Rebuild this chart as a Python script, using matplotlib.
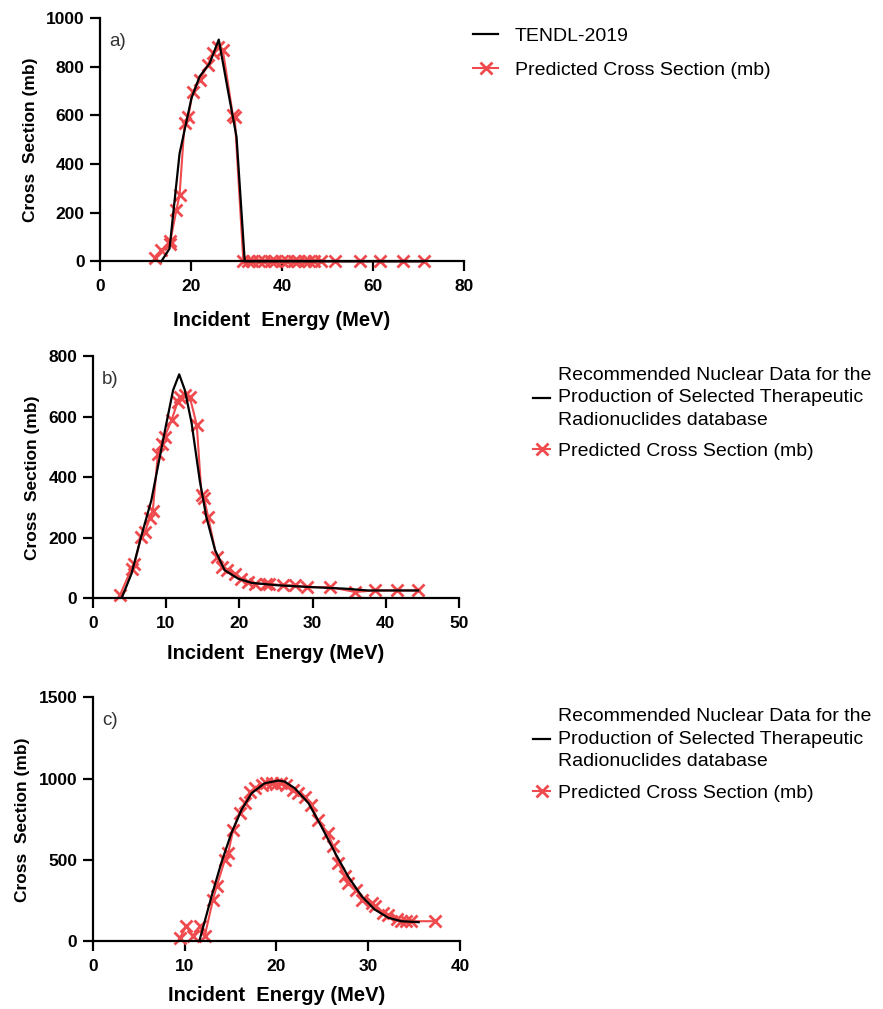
import matplotlib.pyplot as plt

plt.rcParams['font.family'] = ['Liberation Sans', 'DejaVu Sans']

# -------------------------------
# Data
# -------------------------------

# a) TENDL-2019
a_ref_e = [13.5, 15.3, 17.5, 20.1, 21.9, 24.1, 26.1, 28.1, 30.0, 31.8, 35, 45, 55, 65, 71]
a_ref_xs = [0, 52, 443, 670, 760, 814, 912, 704, 512, 0, 0, 0, 0, 0, 0]
a_pred_e = [12.1, 13.5, 15.3, 15.5, 16.8, 17.5, 18.6, 19.4, 20.4, 21.9, 23.7, 24.8, 25.9, 27.0,
            29.2, 29.6, 31.5, 32.5, 33.5, 35, 36, 37.5, 38.5, 40, 41, 42.5, 43.5, 45, 46, 47,
            48.5, 51.5, 57, 61.5, 66.5, 71.2]
a_pred_xs = [15, 45, 73, 85, 210, 272, 567, 594, 697, 745, 807, 855, 882, 868,
             600, 594, 0, 0, 0, 0, 0, 0, 0, 0, 0, 0, 0, 0, 0, 0,
             0, 0, 0, 0, 0, 0]

# b) Recommended nuclear data
b_ref_e = [4.0, 5.3, 6.6, 8.0, 9.15, 10.05, 10.97, 11.8, 12.57, 13.5, 14.6, 15.5, 16.7, 18.0,
           19.85, 21.7, 25.3, 29.9, 34.4, 37.6, 44.4]
b_ref_xs = [4, 82, 203, 324, 467, 578, 688, 740, 688, 578, 390, 269, 159, 93,
            65, 51, 43, 37, 32, 26, 26]
b_pred_e = [3.7, 5.3, 5.7, 6.6, 7.1, 7.8, 8.2, 8.9, 9.4, 9.8, 10.75, 11.6, 11.9, 12.6, 13.25,
            14.2, 14.85, 15.2, 15.75, 16.9, 17.6, 18.3, 19.4, 20.3, 21.2, 22.1, 23.7, 24.1,
            26.0, 27.6, 29.2, 32.4, 35.8, 38.5, 41.5, 44.4]
b_pred_xs = [10, 98, 115, 203, 219, 265, 290, 478, 511, 533, 588, 650, 665, 671, 665,
             572, 340, 330, 269, 137, 104, 93, 82, 65, 54, 48, 48, 48,
             43, 43, 37, 37, 21, 26, 26, 26]

# c) Recommended nuclear data
c_ref_e = [11.66, 12.94, 14.0, 15.1, 16.2, 17.3, 18.7, 20.2, 20.9, 22.0, 23.5, 24.9, 26.4,
           27.8, 29.3, 30.7, 32.2, 33.6, 35.5]
c_ref_xs = [12, 277, 482, 665, 808, 910, 971, 988, 982, 941, 849, 706, 543,
            400, 277, 196, 145, 124, 118]
c_pred_e = [9.5, 10.2, 10.9, 11.66, 12.2, 13.1, 13.5, 14.4, 14.75, 15.3, 16.0, 16.6, 17.1,
            17.7, 18.4, 18.9, 19.5, 20.0, 20.5, 21.1, 21.8, 22.4, 23.1, 23.8, 24.5, 25.6,
            26.2, 26.7, 27.5, 27.8, 28.7, 29.3, 30.4, 30.7, 31.6, 32.2, 33.1, 33.6, 34.1,
            34.7, 37.3]
c_pred_xs = [22, 94, 33, 94, 33, 257, 339, 502, 543, 686, 788, 849, 920,
             941, 961, 971, 975, 967, 975, 961, 930, 910, 890, 839, 747, 665,
             584, 482, 400, 359, 318, 257, 237, 216, 176, 165, 135, 124, 124,
             124, 124]

tendl_label = "TENDL-2019"
rec_label = ("Recommended Nuclear Data for the\nProduction of Selected Therapeutic\n"
             "Radionuclides database")
pred_label = "Predicted Cross Section (mb)"

RED = "#EF4A4D"

panels = [
    dict(tag="a)", ref=(a_ref_e, a_ref_xs), pred=(a_pred_e, a_pred_xs), label=tendl_label,
         xlim=(0, 80), xticks=[0, 20, 40, 60, 80], ylim=(0, 1000),
         yticks=[0, 200, 400, 600, 800, 1000],
         rect=[0.113, 0.741, 0.413, 0.241], leg=(0.5357, 0.973),
         hlen=1.3, hpad=0.85, lspace=0.85, xpad=12),
    dict(tag="b)", ref=(b_ref_e, b_ref_xs), pred=(b_pred_e, b_pred_xs), label=rec_label,
         xlim=(0, 50), xticks=[0, 10, 20, 30, 40, 50], ylim=(0, 800),
         yticks=[0, 200, 400, 600, 800],
         rect=[0.105, 0.407, 0.415, 0.240], leg=(0.6036, 0.636),
         hlen=0.9, hpad=0.4, lspace=0.7, xpad=9),
    dict(tag="c)", ref=(c_ref_e, c_ref_xs), pred=(c_pred_e, c_pred_xs), label=rec_label,
         xlim=(0, 40), xticks=[0, 10, 20, 30, 40], ylim=(0, 1500),
         yticks=[0, 500, 1000, 1500],
         rect=[0.105, 0.067, 0.416, 0.242], leg=(0.6036, 0.298),
         hlen=0.9, hpad=0.4, lspace=0.75, xpad=8),
]

fig = plt.figure(figsize=(8.83, 10.09), dpi=100)

for p in panels:
    ax = fig.add_axes(p["rect"])
    ax.plot(p["pred"][0], p["pred"][1], color=RED, marker="x", markersize=8,
            markeredgewidth=2, linewidth=1.5, label=pred_label, clip_on=False, zorder=2)
    ax.plot(p["ref"][0], p["ref"][1], color="black", linewidth=1.6,
            label=p["label"], clip_on=False, zorder=3)
    ax.set_xlim(*p["xlim"])
    ax.set_ylim(*p["ylim"])
    ax.set_xticks(p["xticks"])
    ax.set_yticks(p["yticks"])
    for s in ["top", "right"]:
        ax.spines[s].set_visible(False)
    for s in ["left", "bottom"]:
        ax.spines[s].set_linewidth(1.6)
    ax.tick_params(width=1.6, length=7, labelsize=12.5, direction="out", pad=4)
    ax.tick_params(axis="x", pad=6)
    for t in ax.get_xticklabels() + ax.get_yticklabels():
        t.set_fontweight("bold")
    ax.set_xlabel("Incident  Energy (MeV)", fontsize=14.5, fontweight="bold",
                  labelpad=p["xpad"])
    ax.set_ylabel("Cross  Section (mb)", fontsize=12.5, fontweight="bold", labelpad=6)
    ax.text(0.025, 0.94, p["tag"], transform=ax.transAxes, fontsize=13.5, va="top",
            color="#333333")

    handles, labels = ax.get_legend_handles_labels()
    leg = fig.legend(handles[::-1], labels[::-1], loc="upper left",
                     bbox_to_anchor=p["leg"], frameon=False, fontsize=14,
                     handlelength=p["hlen"], handletextpad=p["hpad"],
                     labelspacing=p["lspace"], borderpad=0, borderaxespad=0)
    for t in leg.get_texts():
        t.set_linespacing(1.4)

fig.savefig("out.png", dpi=100)
